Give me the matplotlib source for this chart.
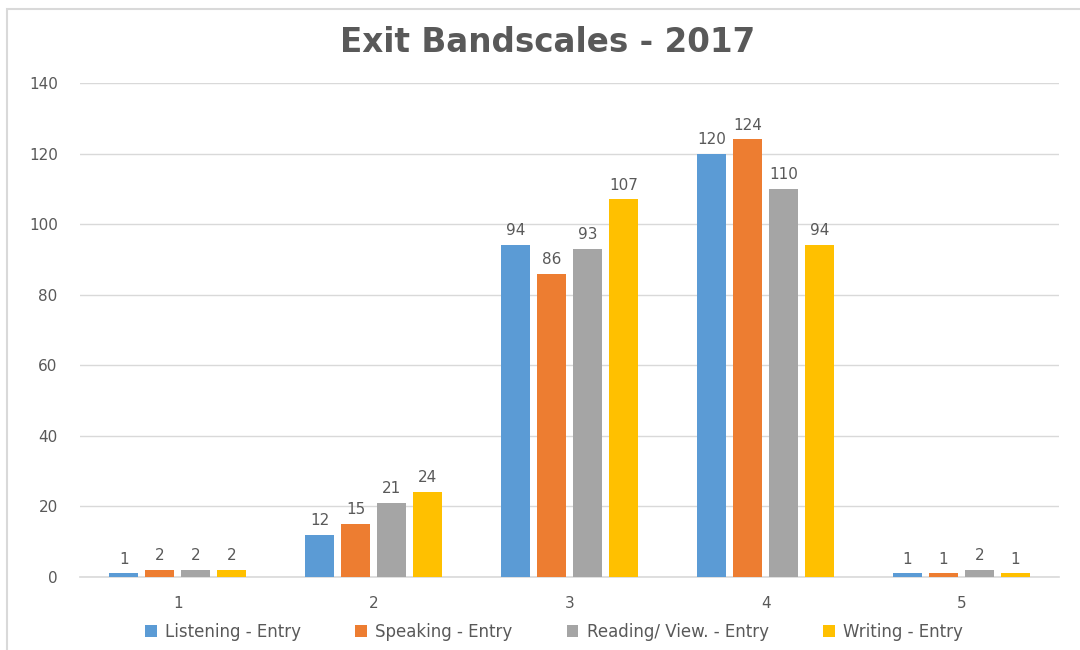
import numpy as np
import matplotlib
matplotlib.use("Agg")
import matplotlib.pyplot as plt
from matplotlib.patches import Rectangle

plt.rcParams['font.family'] = ['DejaVu Sans']

categories = ["1", "2", "3", "4", "5"]
series_names = ["Listening - Entry", "Speaking - Entry", "Reading/ View. - Entry", "Writing - Entry"]
listening = [1, 12, 94, 120, 1]
speaking = [2, 15, 86, 124, 1]
reading = [2, 21, 93, 110, 2]
writing = [2, 24, 107, 94, 1]
y_ticks = [0, 20, 40, 60, 80, 100, 120, 140]

series_values = [listening, speaking, reading, writing]
colors = ["#5B9BD5", "#ED7D31", "#A5A5A5", "#FFC000"]
text_color = "#595959"
grid_color = "#D9D9D9"

fig = plt.figure(figsize=(10.8, 6.5), dpi=100)
ax = fig.add_axes([0.074, 0.1123, 0.907, 0.760])

# outer chart frame
fig.patches.append(Rectangle((7 / 1080, -0.1), 1.2, 1 - 9 / 650 + 0.1,
                             transform=fig.transFigure, fill=False,
                             edgecolor=grid_color, linewidth=1.5, zorder=0))

x = np.arange(len(categories))
bar_w = 0.148
step = 0.184
offsets = (np.arange(len(series_values)) - 1.5) * step

for vals, name, col, off in zip(series_values, series_names, colors, offsets):
    bars = ax.bar(x + off, vals, width=bar_w, color=col, label=name, zorder=3)
    for b, v in zip(bars, vals):
        ax.annotate(str(v), (b.get_x() + b.get_width() / 2, v),
                    xytext=(0, 5), textcoords="offset points",
                    ha="center", va="bottom", fontsize=11, color=text_color)

ax.set_xlim(-0.5, len(categories) - 0.5)
ax.set_ylim(0, 140)
ax.set_yticks(y_ticks)
ax.set_xticks(x)
ax.set_xticklabels(categories)
ax.tick_params(axis="both", length=0, labelsize=11, labelcolor=text_color)
ax.tick_params(axis="y", pad=16)
ax.tick_params(axis="x", pad=14)
ax.grid(axis="y", color=grid_color, linewidth=1, zorder=0)
for s in ["top", "right", "left"]:
    ax.spines[s].set_visible(False)
ax.spines["bottom"].set_color(grid_color)
ax.spines["bottom"].set_linewidth(1.2)

fig.text(0.507, 1 - 42 / 650, "Exit Bandscales - 2017", ha="center", va="center",
         fontsize=23.5, fontweight="bold", color=text_color)

leg = fig.legend(loc="center", bbox_to_anchor=(0.513, 1 - 632 / 650), ncol=4,
                 frameon=False, fontsize=12, handlelength=0.7, handleheight=0.7,
                 columnspacing=3.25, handletextpad=0.5)
for t in leg.get_texts():
    t.set_color(text_color)

fig.savefig("out.png", dpi=100)
